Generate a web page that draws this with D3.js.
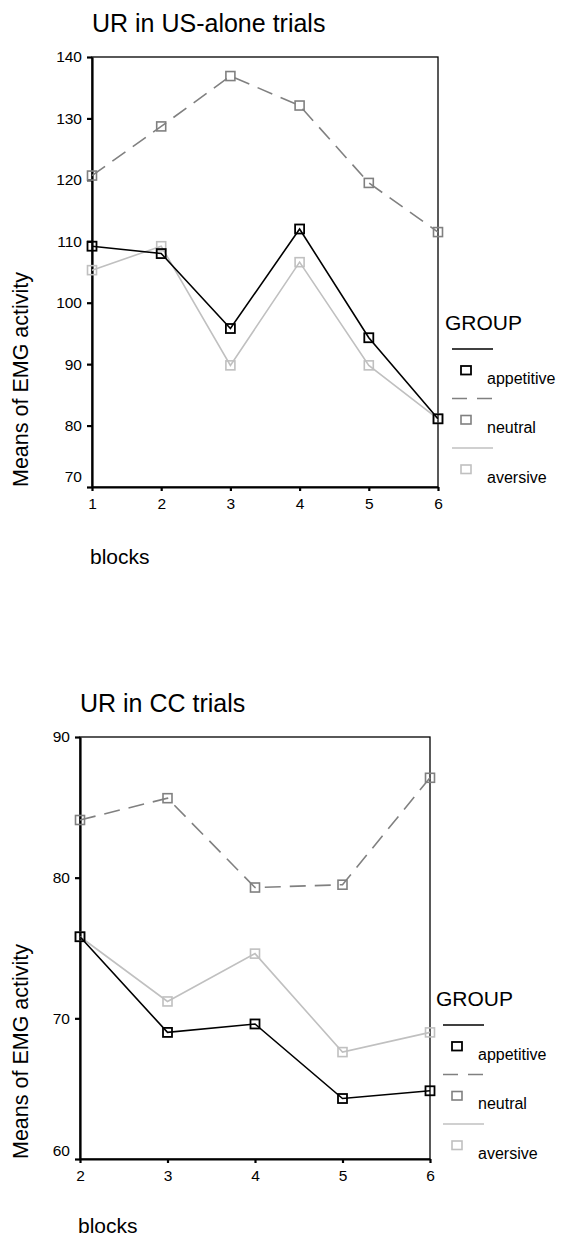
<!DOCTYPE html>
<html>
<head>
<meta charset="utf-8">
<script src="https://cdn.jsdelivr.net/npm/d3@7"></script>
<style>
  body { margin: 0; background: #fff; }
  svg { display: block; font-family: "Liberation Sans", Arial, sans-serif; }
</style>
</head>
<body>
<div id="chart"></div>
<script>
// Data

// top chart: UR in US-alone trials
let usBlocks = [1, 2, 3, 4, 5, 6];
let usAppetitive = [109.2, 108.0, 95.8, 112.0, 94.3, 81.1];
let usNeutral = [120.7, 128.7, 136.9, 132.1, 119.5, 111.5];
let usAversive = [105.3, 109.2, 89.8, 106.6, 89.8, 81.1];
let usTicks = [70, 80, 90, 100, 110, 120, 130, 140];

// bottom chart: UR in CC trials
let ccBlocks = [2, 3, 4, 5, 6];
let ccAppetitive = [75.8, 69.0, 69.6, 64.3, 64.85];
let ccNeutral = [84.1, 85.65, 79.3, 79.5, 87.1];
let ccAversive = [75.8, 71.2, 74.6, 67.6, 69.0];
let ccTicks = [60, 70, 80, 90];

let groups = ["appetitive", "neutral", "aversive"];

// line style per group
let styles = {
    appetitive: { color: "#000", dash: null, markColor: "#000", markWidth: 1.8 },
    neutral: { color: "#808080", dash: "16,9", markColor: "#808080", markWidth: 1.6 },
    aversive: { color: "#c0c0c0", dash: null, markColor: "#c0c0c0", markWidth: 1.6 }
};

let svg = d3.select("#chart")
    .append("svg")
    .attr("width", 561)
    .attr("height", 1239);

function drawChart(cfg) {
    let x = d3.scaleLinear()
        .domain(d3.extent(cfg.blocks))
        .range([cfg.left, cfg.right]);
    let y = d3.scaleLinear()
        .domain(d3.extent(cfg.ticks))
        .range([cfg.bottom, cfg.top]);

    let g = svg.append("g");

    // title
    g.append("text")
        .attr("x", cfg.titleX)
        .attr("y", cfg.titleY)
        .style("font-size", "25px")
        .text(cfg.title);

    // frame (top and right thin)
    g.append("rect")
        .attr("x", cfg.left)
        .attr("y", cfg.top)
        .attr("width", cfg.right - cfg.left)
        .attr("height", cfg.bottom - cfg.top)
        .attr("fill", "none")
        .attr("stroke", "#000")
        .attr("stroke-width", 1.3);

    // y axis
    let yAxis = g.append("g")
        .attr("transform", `translate(${cfg.left},0)`)
        .call(d3.axisLeft(y).tickValues(cfg.ticks).tickSize(5).tickPadding(5).tickSizeOuter(0));
    yAxis.select(".domain").attr("stroke-width", 2.2);
    yAxis.selectAll(".tick line").attr("stroke-width", 2.2);
    yAxis.selectAll(".tick text")
        .style("font-size", "15.5px")
        .attr("font-family", null)
        .attr("fill", "#000");
    // lowest label sits a bit above its tick
    yAxis.selectAll(".tick").filter(d => d === cfg.ticks[0])
        .select("text").attr("y", -cfg.lowShift);

    // x axis
    let xAxis = g.append("g")
        .attr("transform", `translate(0,${cfg.bottom})`)
        .call(d3.axisBottom(x).tickValues(cfg.blocks).tickFormat(d3.format("d")).tickSize(4).tickPadding(7).tickSizeOuter(0));
    xAxis.select(".domain").attr("stroke-width", 2.2);
    xAxis.selectAll(".tick line").attr("stroke-width", 2.2);
    xAxis.selectAll(".tick text")
        .style("font-size", "15.5px")
        .attr("font-family", null)
        .attr("fill", "#000");

    // axis titles
    g.append("text")
        .attr("transform", `translate(28,${cfg.bottom}) rotate(-90)`)
        .style("font-size", "21.5px")
        .text("Means of EMG activity");

    g.append("text")
        .attr("x", cfg.left - 2)
        .attr("y", cfg.blocksY)
        .style("font-size", "21px")
        .text("blocks");

    // series lines, appetitive drawn last so it sits on top
    let line = d3.line()
        .x((d, i) => x(cfg.blocks[i]))
        .y(d => y(d));

    let order = ["aversive", "neutral", "appetitive"];
    order.forEach(name => {
        let s = styles[name];
        let vals = cfg.series[name];

        g.append("path")
            .datum(vals)
            .attr("d", line)
            .attr("fill", "none")
            .attr("stroke", s.color)
            .attr("stroke-width", 1.6)
            .attr("stroke-dasharray", s.dash);

        g.selectAll(".mark-" + name)
            .data(vals)
            .enter().append("rect")
            .attr("class", "mark-" + name)
            .attr("x", (d, i) => x(cfg.blocks[i]) - 4.5)
            .attr("y", d => y(d) - 4.5)
            .attr("width", 9)
            .attr("height", 9)
            .attr("fill", "none")
            .attr("stroke", s.markColor)
            .attr("stroke-width", s.markWidth);
    });

    // legend
    let lg = g.append("g");
    lg.append("text")
        .attr("x", cfg.legendX - 7)
        .attr("y", cfg.legendY - 19)
        .style("font-size", "21px")
        .text("GROUP");

    groups.forEach((name, i) => {
        let s = styles[name];
        let ly = cfg.legendY + i * 49.5;
        lg.append("line")
            .attr("x1", cfg.legendX)
            .attr("x2", cfg.legendX + 41)
            .attr("y1", ly)
            .attr("y2", ly)
            .attr("stroke", s.color)
            .attr("stroke-width", 1.6)
            .attr("stroke-dasharray", s.dash ? "15,10" : null);
        lg.append("rect")
            .attr("x", cfg.legendX + 9)
            .attr("y", ly + 17)
            .attr("width", 10)
            .attr("height", 8.5)
            .attr("fill", "none")
            .attr("stroke", s.markColor)
            .attr("stroke-width", s.markWidth);
        lg.append("text")
            .attr("x", cfg.legendX + 35)
            .attr("y", ly + 34.5)
            .style("font-size", "16px")
            .text(name);
    });
}

drawChart({
    title: "UR in US-alone trials",
    blocks: usBlocks,
    ticks: usTicks,
    series: { appetitive: usAppetitive, neutral: usNeutral, aversive: usAversive },
    left: 92, right: 438, top: 57, bottom: 487,
    titleX: 92, titleY: 32,
    blocksY: 564,
    lowShift: 10,
    legendX: 452, legendY: 349
});

drawChart({
    title: "UR in CC trials",
    blocks: ccBlocks,
    ticks: ccTicks,
    series: { appetitive: ccAppetitive, neutral: ccNeutral, aversive: ccAversive },
    left: 80, right: 430, top: 737, bottom: 1159,
    titleX: 80, titleY: 712,
    blocksY: 1233,
    lowShift: 8,
    legendX: 443, legendY: 1025
});
</script>
</body>
</html>
